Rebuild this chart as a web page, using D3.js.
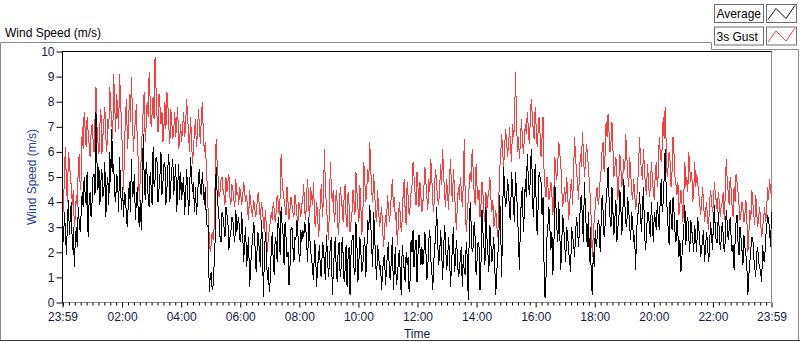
<!DOCTYPE html>
<html><head><meta charset="utf-8">
<script src="https://cdn.jsdelivr.net/npm/d3@7"></script>
<style>
body{margin:0;background:#fff}
svg{display:block;font-family:"Liberation Sans",Arial,sans-serif}
</style>
</head><body>
<svg id="c" width="800" height="342"></svg>
<script>
// ---- data ----
const seriesNames = ["Average", "3s Gust"];
const seriesColors = ["#000000", "#ff3c3c"];
const stepMinutes = 2;               // sample spacing (minutes) starting 23:59
const xTickLabels = ["23:59","02:00","04:00","06:00","08:00","10:00","12:00","14:00","16:00","18:00","20:00","22:00","23:59"];
const yTicks = [0,1,2,3,4,5,6,7,8,9,10];

// 3s gust, samples at 23:59 + 4k minutes
const gustA = [
4.0,5.3,4.6,6.0,5.0,3.9,3.0,4.3,5.4,4.5,
7.0,7.6,6.2,6.8,5.8,7.1,6.0,8.6,6.4,7.1,
5.9,7.2,6.6,7.3,8.6,7.2,9.1,6.8,7.6,9.1,
7.0,4.5,7.5,6.1,8.3,9.0,6.0,7.2,6.3,4.0,
5.8,7.7,6.4,8.0,9.2,7.0,8.2,9.8,7.4,8.3,
7.1,6.4,8.0,8.4,7.0,7.7,6.5,7.6,7.2,6.1,
7.1,
7.0,6.6,8.1,6.7,7.4,5.5,6.8,6.2,7.7,6.3,
8.0,6.0,5.5,3.5,2.0,2.8,3.0,6.5,5.0,4.4,
5.0,4.3,5.0,4.8,4.2,4.7,4.1,4.9,4.4,4.6,
3.9,4.8,4.0,3.6,4.5,3.7,4.1,3.4,4.2,3.7,
4.0,3.2,3.7,2.0,2.9,3.6,4.0,3.2,4.3,3.5,
5.9,4.4,3.8,4.6,3.3,4.2,3.6,4.3,3.5,4.0,
3.4,
4.1,3.6,4.4,3.8,4.6,3.9,3.2,4.0,2.6,4.3,
3.4,6.1,3.8,2.5,5.6,4.0,3.2,4.5,2.7,4.6,
3.8,4.2,3.4,4.4,2.8,3.6,4.0,5.2,3.8,4.7,
2.7,5.6,4.0,5.3,6.4,4.4,5.1,3.5,4.5,3.0,
3.8,2.2,3.5,4.3,3.2,4.4,3.8,3.3,2.3,4.0,
2.8,4.4,3.6,4.8,3.5,4.4,5.6,4.4,5.2,3.8,
4.2,
4.0,5.4,4.2,4.9,5.7,4.0,4.8,4.6,3.9,5.5,
6.1,4.3,4.9,3.7,5.7,4.0,4.6,2.9,4.6,5.0,
3.8,6.5,2.8,4.1,5.2,6.1,4.4,5.5,4.1,3.4,
4.8,3.6,4.4,4.2,5.0,3.6,3.0,3.7,2.6,5.3,
6.7,5.4,6.9,5.8,7.0,5.6,6.6,9.2,6.0,5.7,
7.3,5.9,7.1,7.6,6.3,8.1,6.9,7.8,6.2,7.4,
5.8,
7.4,4.6,5.0,4.1,4.8,3.5,5.8,4.9,6.4,5.6,
3.8,4.6,5.0,3.3,4.6,3.9,6.6,5.2,4.1,5.9,
6.8,5.0,6.3,5.4,4.2,1.8,3.3,4.3,3.9,4.9,
6.1,5.2,7.2,7.5,6.0,7.2,5.0,5.8,4.1,5.9,
4.6,5.7,6.7,5.1,5.8,4.4,4.9,3.7,4.7,6.6,
5.2,6.1,4.6,5.5,4.2,5.6,4.4,5.2,4.6,6.6,
5.6,
7.4,7.8,5.0,6.0,4.6,6.6,5.0,4.3,3.5,4.5,
3.2,5.6,5.0,6.0,4.8,4.0,5.6,5.1,4.4,3.5,
4.6,3.2,4.0,2.9,4.5,3.6,4.8,4.0,4.4,3.4,
4.0,3.3,5.7,4.4,5.0,3.8,4.6,5.1,4.4,3.3,
4.0,3.2,4.1,2.0,3.7,4.5,3.5,4.3,3.0,3.8,
2.6,3.3,3.2,4.6,4.9,4.2
];
// 3s gust, samples 2 minutes after each gustA sample
const gustB = [
3.6,6.2,4.0,5.6,4.6,4.5,3.4,3.8,5.9,4.9,
6.1,6.9,7.4,6.3,6.7,6.5,7.3,7.0,5.9,7.7,
6.6,7.8,6.0,6.9,7.8,6.5,7.9,8.3,6.9,8.0,
5.8,6.2,8.1,6.9,7.2,7.6,6.8,7.9,5.6,5.0,
6.9,8.4,7.1,7.4,8.1,7.5,7.3,8.5,6.8,7.8,
7.6,7.0,6.9,7.9,6.3,7.2,6.9,6.6,7.8,6.5,
6.4,7.6,7.0,7.5,6.0,6.6,6.1,7.3,6.7,7.1,
7.4,6.8,6.4,4.6,2.6,2.3,2.5,4.8,5.6,4.2,
4.9,4.5,3.9,4.4,5.1,3.9,4.5,3.8,4.3,3.9,
4.3,4.2,4.4,4.3,3.3,4.0,3.4,3.9,3.6,4.4,
3.3,3.7,2.8,3.0,2.6,3.2,3.3,3.7,3.6,4.0,
4.2,4.9,4.1,3.5,4.0,3.7,3.9,3.4,4.0,3.1,
3.8,
3.9,4.7,3.3,4.9,3.4,4.2,4.8,3.0,3.6,3.1,
4.7,4.1,4.6,3.3,3.6,4.6,4.5,3.6,3.9,3.3,
4.2,3.2,4.7,3.0,3.9,3.2,4.5,3.5,4.4,3.2,
3.8,3.4,4.8,4.5,4.8,5.4,4.0,4.4,3.2,3.7,
3.4,3.1,2.8,3.0,3.8,3.6,4.9,4.2,3.6,3.1,
3.5,3.3,4.9,3.1,4.2,3.8,4.7,5.0,3.9,4.6,
4.8,
3.6,4.6,4.8,3.7,4.4,5.0,3.6,5.3,4.1,4.5,
4.7,5.2,3.8,4.4,4.9,4.6,5.3,3.6,3.9,4.1,
4.5,4.7,4.0,3.4,4.6,4.8,5.3,3.9,4.6,4.5,
3.9,4.3,3.2,3.7,4.4,4.2,4.1,3.3,3.1,4.0,
5.9,6.0,6.2,6.4,6.3,6.2,7.1,7.0,7.4,6.6,
6.4,6.6,6.5,6.7,7.0,7.2,7.5,6.5,7.0,6.8,
6.7,
6.6,5.3,4.2,4.6,4.4,4.3,4.4,5.2,5.6,5.9,
4.5,4.2,4.0,4.4,3.8,4.9,5.1,5.8,4.8,5.2,
5.4,6.0,5.5,6.0,4.8,3.2,2.7,3.8,4.6,4.2,
5.3,6.4,5.9,6.6,6.8,6.4,6.1,5.4,5.1,4.9,
5.4,5.0,5.3,5.9,4.6,5.2,4.1,4.4,4.0,5.4,
5.7,4.9,5.3,4.3,4.9,4.6,5.0,4.1,5.6,5.1,
6.0,
6.2,6.5,6.4,5.4,5.6,5.2,5.9,4.7,4.8,3.9,
4.0,4.3,4.6,4.4,5.3,5.2,4.4,4.6,4.8,4.0,
3.9,4.0,3.6,3.4,3.8,4.1,3.9,4.3,3.6,4.0,
3.9,4.4,4.2,4.9,3.9,4.5,3.4,4.0,4.8,3.9,
3.6,3.7,3.5,3.3,2.7,3.3,4.0,3.1,3.6,3.4,
3.2,3.0,3.8,3.6,4.1,4.5
];

// average, samples at 23:59 + 4k minutes
const avgA = [
3.0,3.6,1.9,4.1,3.5,2.1,1.4,3.0,3.8,2.8,
4.4,5.0,3.9,2.6,4.4,4.0,5.1,7.6,4.5,3.9,
5.3,4.4,3.4,5.0,6.0,6.9,5.5,4.0,4.9,5.8,
3.7,3.4,4.2,3.0,4.8,5.7,4.4,3.3,4.6,3.0,
2.9,6.7,4.1,5.0,3.8,4.6,6.2,4.9,5.6,4.5,
6.0,4.8,5.6,4.5,5.9,4.7,5.7,4.9,3.6,5.5,
5.2,
4.6,3.5,5.3,3.5,5.8,4.4,3.6,3.5,5.0,4.4,
5.2,3.9,3.4,3.1,1.0,0.5,1.5,5.4,3.8,2.6,
3.6,3.0,3.8,3.2,2.6,3.4,2.7,3.7,3.2,2.5,
3.6,1.6,3.0,2.1,0.6,2.2,3.2,1.5,2.8,1.9,
3.3,0.2,2.8,0.9,0.4,2.2,1.6,2.6,1.6,2.9,
3.8,2.7,3.2,1.8,0.7,2.9,2.2,2.6,3.3,2.0,
2.9,
2.9,3.2,2.3,3.4,2.0,1.2,2.5,0.6,1.8,1.1,
2.4,1.5,2.7,1.0,2.3,0.3,2.0,1.3,2.2,1.0,
2.6,0.8,2.3,1.8,0.3,2.5,1.4,3.2,0.8,2.6,
1.2,2.2,1.0,3.3,3.9,2.2,3.6,1.6,2.3,1.3,
0.5,1.7,0.7,2.0,1.1,1.8,0.5,2.2,1.0,2.1,
0.3,1.8,0.8,1.5,0.4,2.5,2.9,2.1,0.8,2.7,
1.5,
1.5,2.8,0.9,2.5,1.7,0.5,2.2,3.8,1.5,2.9,
0.9,3.1,1.3,2.6,0.6,2.3,1.2,2.5,1.0,1.8,
0.6,1.2,2.4,0.1,4.0,2.0,3.2,1.1,2.4,0.5,
3.7,2.2,3.8,2.0,3.1,1.6,2.6,0.3,1.9,4.3,
1.0,5.4,3.8,4.9,3.4,5.2,3.8,5.2,3.7,1.3,
4.2,2.8,4.9,5.9,4.3,6.1,3.4,5.5,2.7,5.2,
4.8,
4.2,0.2,2.6,3.8,2.1,1.1,4.7,3.0,4.0,1.3,
3.5,2.3,3.0,2.0,1.2,2.6,1.8,3.4,2.2,4.1,
3.2,4.8,2.8,3.6,3.0,0.3,1.4,2.2,3.3,2.0,
4.3,2.6,4.0,5.4,3.4,4.6,2.7,4.1,3.0,4.5,
2.7,4.9,3.2,4.2,3.0,3.6,2.4,1.3,3.5,4.4,
2.8,4.6,2.1,3.6,3.0,4.0,2.4,3.3,4.0,2.9,
4.9,
4.0,6.1,3.7,2.3,3.5,4.2,2.8,3.3,1.8,1.2,
2.4,3.9,3.2,2.6,3.3,2.5,3.1,2.0,3.0,1.8,
2.5,1.6,2.8,1.6,3.2,2.1,3.9,2.4,3.6,2.1,
3.2,2.0,3.7,2.5,3.4,2.0,1.3,3.2,2.4,3.0,
2.1,2.7,1.9,0.3,1.6,2.6,1.8,1.0,2.2,1.4,
0.8,1.7,2.6,3.5,2.9,3.6
];
// average, samples 2 minutes after each avgA sample
const avgB = [
2.4,2.8,3.2,2.7,4.0,3.0,2.5,2.2,3.2,3.6,
3.8,4.3,5.2,4.0,3.4,5.0,4.3,5.6,5.4,4.8,
4.2,5.6,4.6,3.9,4.8,5.2,4.3,5.1,3.6,4.5,
4.6,4.4,3.3,4.3,3.6,4.2,5.1,4.0,3.5,4.1,
4.3,4.9,5.6,4.2,5.2,3.9,4.6,5.8,4.0,5.1,
4.3,5.5,3.9,5.4,4.0,5.3,4.3,5.5,4.6,4.1,
4.1,5.0,4.2,4.6,4.2,5.1,4.8,4.6,4.0,5.3,
4.3,4.5,4.6,3.0,0.4,1.2,0.7,2.5,4.4,3.3,
2.4,3.4,2.6,3.5,2.1,2.8,3.3,2.4,2.8,3.4,
2.4,2.7,2.5,1.4,2.6,1.3,2.4,3.0,1.2,2.7,
1.4,2.5,1.8,2.2,1.4,0.9,2.8,1.1,2.4,3.4,
1.9,3.1,1.5,2.6,2.0,1.4,3.0,1.6,2.5,2.8,
1.6,
2.4,2.6,3.0,1.6,2.7,1.8,0.9,2.1,1.4,2.3,
1.0,2.2,0.9,2.0,1.5,2.6,1.2,2.6,0.8,2.4,
1.4,1.9,1.3,0.6,2.2,1.9,2.7,1.1,2.3,1.6,
2.0,1.5,2.6,2.0,2.9,3.2,1.4,2.7,0.9,1.9,
1.5,1.2,1.9,1.3,2.4,0.9,2.6,1.4,0.7,1.6,
1.2,2.3,1.3,2.0,1.8,0.9,2.0,1.4,2.5,1.9,
2.2,
2.2,2.0,2.1,1.4,2.9,1.3,1.6,2.7,2.4,1.9,
2.2,2.0,2.4,1.6,2.0,1.4,3.0,1.6,1.9,1.2,
2.2,1.9,1.1,1.8,2.6,3.1,2.2,2.6,1.7,2.2,
1.6,2.8,1.5,2.6,1.2,2.4,2.0,1.4,1.2,2.3,
2.9,3.6,4.4,4.1,4.5,3.3,4.6,3.2,4.4,2.5,
3.1,4.6,3.6,4.2,5.0,4.8,5.1,4.3,4.0,3.8,
5.0,
3.5,1.6,1.0,3.1,2.9,2.8,2.2,3.9,2.4,2.8,
2.4,3.0,1.6,2.7,1.7,3.0,2.4,2.7,3.0,2.9,
4.3,2.4,3.8,2.2,1.6,0.9,2.0,2.9,2.6,3.1,
3.2,3.6,3.1,4.6,4.2,3.0,3.6,3.4,2.4,3.3,
3.8,3.5,4.0,3.0,3.7,2.5,3.2,2.7,2.8,3.6,
3.4,3.9,2.9,2.6,3.6,2.6,3.2,3.6,2.9,3.4,
4.1,
3.6,5.0,4.6,3.0,4.1,2.9,3.6,2.4,2.7,2.5,
1.8,3.0,2.3,3.4,2.0,2.9,2.0,2.6,3.4,2.6,
2.1,2.9,2.2,2.4,2.0,2.8,3.1,2.8,2.4,2.8,
2.5,2.7,2.4,3.2,2.9,2.6,2.3,2.4,3.5,1.9,
2.6,1.5,2.2,1.4,1.1,2.1,2.6,1.4,2.0,1.6,
1.2,2.3,1.6,2.9,3.3,2.2
];

// merge the two sample sets into one 2-minute series
const weave = (a, b) => a.flatMap((v, i) => i < b.length ? [v, b[i]] : [v]);
const gust = weave(gustA, gustB);
const avg = weave(avgA, avgB);

// ---- layout ----
const svg = d3.select("#c");
const P = {l: 62.5, r: 771.5, t: 51.5, b: 302.5};
const t0 = new Date(2020, 0, 1, 23, 59);
const t1 = new Date(+t0 + 1440 * 60000);
const x = d3.scaleTime().domain([t0, t1]).range([P.l, P.r]);
const y = d3.scaleLinear().domain([0, 10]).range([P.b, P.t]);
const timeAt = i => new Date(+t0 + i * stepMinutes * 60000);

// outer frame
svg.append("path")
  .attr("d", "M0.5,341 V42.5 H711.5 V49.5 H798.5 V341")
  .attr("fill", "none").attr("stroke", "#8c8c8c");
svg.append("line").attr("x1", 0).attr("x2", 800).attr("y1", 340.5).attr("y2", 340.5)
  .attr("stroke", "#3a3a3a");

// title
svg.append("text").attr("x", 5).attr("y", 37).attr("font-size", 12).attr("fill", "#000")
  .text("Wind Speed (m/s)");

// plot area frame
svg.append("rect").attr("x", P.l).attr("y", P.t).attr("width", P.r - P.l).attr("height", P.b - P.t)
  .attr("fill", "#fff");
svg.append("path").attr("d", `M${P.r},${P.t} V${P.b} H${P.l}`).attr("fill", "none").attr("stroke", "#8c8c8c");

// series (gust first, average on top)
const line = d3.line().x((d, i) => x(timeAt(i))).y(d => y(d));
const g = svg.append("g").attr("shape-rendering", "crispEdges");
g.append("path").datum(gust).attr("d", line).attr("fill", "none")
  .attr("stroke", seriesColors[1]).attr("stroke-width", 1);
g.append("path").datum(avg).attr("d", line).attr("fill", "none")
  .attr("stroke", seriesColors[0]).attr("stroke-width", 1);

svg.append("path").attr("d", `M${P.l},${P.b} V${P.t} H${P.r}`).attr("fill", "none").attr("stroke", "#000");

// y axis
const yAxis = svg.append("g").attr("transform", `translate(${P.l},0)`)
  .call(d3.axisLeft(y).tickValues(yTicks).tickFormat(d3.format("d")).tickSize(6).tickPadding(2).tickSizeOuter(0));
yAxis.select(".domain").remove();
yAxis.selectAll("line").attr("stroke", "#000");
yAxis.selectAll("text").attr("font-size", 12).attr("fill", "#141a44")
  .attr("font-family", '"Liberation Sans",Arial,sans-serif');

// x axis (major + minor ticks)
const majorTimes = xTickLabels.map((lab, i) => {
  if (i === 0) return t0;
  if (i === xTickLabels.length - 1) return t1;
  const [h, m] = lab.split(":").map(Number);
  return new Date(2020, 0, 2, h, m);
});
const minorTimes = d3.timeMinute.every(12).range(t0, t1)
  .filter(t => !majorTimes.some(mj => +mj === +t));
const xMinor = svg.append("g").attr("transform", `translate(0,${P.b})`)
  .call(d3.axisBottom(x).tickValues(minorTimes).tickFormat("").tickSize(3).tickSizeOuter(0));
xMinor.select(".domain").remove();
xMinor.selectAll("line").attr("stroke", "#000");
const xAxis = svg.append("g").attr("transform", `translate(0,${P.b})`)
  .call(d3.axisBottom(x).tickValues(majorTimes).tickFormat((d, i) => xTickLabels[i])
    .tickSize(5).tickPadding(5).tickSizeOuter(0));
xAxis.select(".domain").remove();
xAxis.selectAll("line").attr("stroke", "#000");
xAxis.selectAll("text").attr("font-size", 12).attr("fill", "#141a44")
  .attr("font-family", '"Liberation Sans",Arial,sans-serif');

// axis titles
svg.append("text").attr("x", (P.l + P.r) / 2).attr("y", 337.5).attr("text-anchor", "middle")
  .attr("font-size", 12).attr("fill", "#141a44").text("Time");
svg.append("text").attr("transform", `translate(36,${(P.t + P.b) / 2}) rotate(-90)`)
  .attr("text-anchor", "middle").attr("font-size", 12).attr("fill", "#1f3f8f").text("Wind Speed (m/s)");

// legend
const leg = svg.append("g");
[0, 1].forEach(k => {
  const yy = 4.5 + k * 22.5;
  leg.append("rect").attr("x", 714.5).attr("y", yy).attr("width", 49).attr("height", 18)
    .attr("fill", "#fff").attr("stroke", "#6e6e6e");
  leg.append("text").attr("x", 716.5).attr("y", yy + 13.5).attr("font-size", 12).attr("fill", "#000")
    .text(seriesNames[k]);
  leg.append("rect").attr("x", 766.5).attr("y", yy).attr("width", 30).attr("height", 18)
    .attr("fill", "#fff").attr("stroke", "#6e6e6e");
  leg.append("path").attr("d", `M768,${yy+15} L776,${yy+4} L786,${yy+14} L795,${yy+1}`)
    .attr("fill", "none").attr("stroke", seriesColors[k]).attr("stroke-width", 1);
});
</script>
</body></html>
